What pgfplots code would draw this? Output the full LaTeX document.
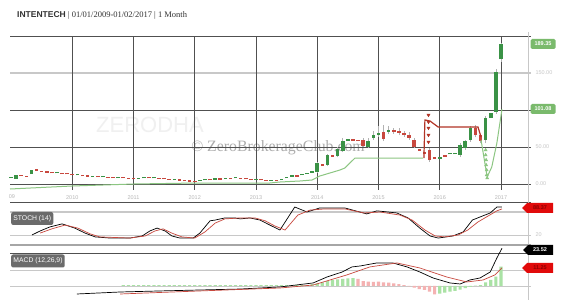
\documentclass[border=0pt]{standalone}
\usepackage{pgfplots}
\usepackage{pgfplotstable}
\pgfplotsset{compat=1.18}
\usepackage{fontspec}
\setmainfont{Liberation Serif}
\setsansfont{Liberation Sans}
\definecolor{cg}{RGB}{58,146,70}
\definecolor{cr}{RGB}{200,72,62}
\definecolor{stg}{RGB}{140,198,130}
\definecolor{str}{RGB}{178,52,38}
\definecolor{hg}{RGB}{170,226,165}
\definecolor{hr}{RGB}{244,178,178}
\definecolor{tagg}{RGB}{122,186,108}
\definecolor{tagr}{RGB}{225,10,10}
\definecolor{gridd}{RGB}{80,80,80}
\definecolor{gridl}{RGB}{200,200,200}

\pgfplotstableread{
m lo hi
0 8.1 10.0
1 6.8 12.2
4 13.5 18.9
9 14.2 16.0
13 11.8 13.6
16 9.5 11.3
18 9.2 11.0
21 8.0 9.8
25 6.8 8.6
26 7.5 9.3
28 7.5 9.3
32 5.4 7.2
37 3.5 5.3
38 5.0 6.8
40 6.0 7.8
42 6.5 8.3
44 7.5 9.3
48 5.4 7.2
51 4.2 6.0
53 5.4 7.2
54 7.5 9.5
55 10.0 12.0
57 11.5 13.3
58 13.0 15.0
59 15.0 17.5
60 16.2 28.4
62 25.7 39.2
64 37.8 47.3
65 44.6 58.1
66 58.5 60.5
70 50.0 58.1
71 62.2 66.2
72 66.5 68.5
74 70.5 72.3
84 34.0 36.0
86 40.0 42.0
87 40.5 42.3
88 39.2 52.7
89 48.6 58.1
90 59.5 75.7
93 59.5 89.2
94 89.2 95.9
95 97.3 151.4
96 168.9 189.35
}\greencandles

\pgfplotstableread{
m lo hi
2 10.8 12.2
3 9.5 11.3
5 17.6 20.3
6 16.2 18.0
7 15.5 17.3
8 14.5 16.3
10 13.3 15.1
11 13.0 14.8
12 12.0 13.8
14 10.6 12.4
15 9.8 11.6
17 9.2 11.0
19 8.3 10.1
20 8.0 9.8
22 7.8 9.6
23 6.8 8.6
24 6.6 8.4
27 7.5 9.3
29 6.8 8.6
30 6.5 8.3
31 5.5 7.3
33 4.3 6.1
34 3.8 5.6
35 3.0 4.8
36 2.7 4.5
39 5.0 6.8
41 6.0 7.8
43 6.5 8.3
45 6.8 8.6
46 6.2 8.0
47 5.4 7.2
49 5.0 6.8
50 4.2 6.0
52 4.0 5.8
56 10.0 11.8
61 24.3 27.0
63 36.5 39.2
67 58.5 60.5
68 58.0 60.0
69 51.4 59.5
73 60.8 70.3
75 70.5 72.3
76 69.5 71.3
77 66.2 68.9
78 62.2 66.2
79 50.0 59.5
80 45.0 47.0
81 41.0 43.0
82 32.4 45.9
83 34.0 36.0
85 37.0 39.0
91 66.2 75.7
92 58.1 66.2
}\redcandles

\pgfplotstableread{
m lo hi
60 15 30
62 24 41
64 36 50
65 43 62
69 50 62
70 48 62
71 60 72
72 64 78
73 58 80
74 68 78
75 68 76
76 66 75
77 64 72
78 60 70
79 48 62
82 30 48
88 37 55
89 46 60
90 57 78
91 63 80
92 55 68
93 55 92
95 95 155
96 165 190.5
}\wicks

\pgfplotstableread{
m v
22 0.6
23 0.6
24 0.6
25 0.6
26 0.6
27 0.6
28 0.6
29 0.6
30 0.6
31 0.6
32 0.6
33 0.6
34 0.6
35 0.6
36 0.6
37 0.6
38 0.6
39 0.6
40 0.6
41 0.6
42 0.6
43 0.6
44 0.6
45 0.6
46 0.6
47 0.6
48 0.6
49 0.6
50 0.6
51 0.6
52 0.6
53 0.6
54 0.6
55 0.6
56 0.6
57 0.6
58 0.6
59 1.1
60 1.7
61 2.3
62 3.1
63 3.75
64 4.2
65 4.4
66 4.8
67 4.9
84 -4.8
85 -4.2
86 -3.5
87 -3.0
88 -2.2
89 -1.3
90 -0.5
91 0.3
92 0.6
93 2.3
94 3.75
95 5.8
96 12.1
}\histgreen

\pgfplotstableread{
m v
68 4.4
69 3.1
70 2.7
71 2.6
72 2.7
73 2.3
74 2.1
75 1.7
76 1.1
77 0.6
78 -0.3
79 -1.0
80 -1.9
81 -2.5
82 -3.5
83 -5.2
}\histred

\begin{document}
\begin{tikzpicture}
\path[use as bounding box] (0pt,0pt) rectangle (562pt,307pt);
\fill[white] (0pt,0pt) rectangle (562pt,307pt);
\begin{scope}[x=1pt,y=1pt]
% title
\node[anchor=west, inner sep=0, text=black!80] at (17,292) {\sffamily\bfseries\fontsize{8.5}{10}\selectfont INTENTECH\rmfamily\mdseries\ | 01/01/2009-01/02/2017 | 1 Month};
% watermarks
\node[text=black!6] at (150,182) {\sffamily\fontsize{22}{24}\selectfont ZERODHA};
\node[text=black!32] at (278,159) {\rmfamily\fontsize{15.8}{18}\selectfont \textcopyright\ ZeroBrokerageClub.com};
% main panel horizontal lines
\draw[gridd, line width=0.6pt] (10,271) -- (531,271);
\draw[gridl, line width=1.4pt] (10,234) -- (531,234);
\draw[gridd, line width=0.6pt] (10,197) -- (531,197);
\draw[gridd, line width=0.6pt] (10,160) -- (531,160);
\draw[gridd, line width=0.6pt] (10,123) -- (531,123);
% stoch lines
\draw[gridd, line width=0.6pt] (10,105) -- (531,105);
\draw[gridl, line width=1.2pt] (10,95) -- (531,95);
\draw[gridl, line width=0.7pt] (10,72) -- (531,72);
\draw[black!35, line width=1.8pt] (10,62) -- (531,62);
% macd lines
\draw[gridd, line width=0.6pt] (10,54) -- (531,54);
\draw[gridl, line width=0.7pt] (10,37) -- (531,37);
\draw[gridl, line width=0.7pt] (10,21) -- (531,21);
% right axis line
\draw[black!22, line width=0.7pt] (528,275) -- (528,7);
\end{scope}

% ===== main price panel =====
\begin{axis}[
  at={(10pt,117pt)}, anchor=south west, scale only axis,
  width=518pt, height=154pt,
  xmin=-0.2, xmax=101.3, ymin=-8.1, ymax=200,
  axis line style={draw=none},
  xtick={12,24,36,48,60,72,84,96},
  xticklabels={2010,2011,2012,2013,2014,2015,2016,2017},
  xticklabel style={font=\sffamily\fontsize{5.5}{6}\selectfont, text=black!28, yshift=-2pt},
  ytick=\empty,
  major tick length=0pt,
  xmajorgrids, major grid style={gridd, line width=0.6pt},
  clip=false,
]
% wicks
\addplot[draw=none, mark=none, error bars/.cd, y dir=plus, y explicit, error mark=none,
  error bar style={draw=black!30, line width=0.6pt}]
  table[x=m, y=lo, y error expr=\thisrow{hi}-\thisrow{lo}] {\wicks};
% bodies
\addplot[draw=none, mark=none, error bars/.cd, y dir=plus, y explicit, error mark=none,
  error bar style={draw=cg, line width=3.6pt}]
  table[x=m, y=lo, y error expr=\thisrow{hi}-\thisrow{lo}] {\greencandles};
\addplot[draw=none, mark=none, error bars/.cd, y dir=plus, y explicit, error mark=none,
  error bar style={draw=cr, line width=3.6pt}]
  table[x=m, y=lo, y error expr=\thisrow{hi}-\thisrow{lo}] {\redcandles};
% supertrend green
\addplot[stg, line width=1pt, mark=none] coordinates {
(-0.2,-6.76) (11.95,-2.7) (24.1,0) (36.4,1.35) (50.7,1.35) (52.7,2.7) (56.6,4.05)
(58.97,5.4) (60.5,10.8) (62.5,14.9) (64.45,18.9) (65.4,21.6) (66.4,28.4) (67.4,35.1) (80.7,35.1)};
% supertrend red
\addplot[str, line width=1.2pt, mark=none] coordinates {
(80.9,35.1) (81.1,86.5) (82.1,85.1) (83.7,77) (91.5,77) (92.1,63.5)};
\addplot[stg, line width=1pt, mark=none] coordinates {
(92.1,59.5) (93.3,9.5) (94.2,23) (95.2,55.4) (96.2,101.08)};
% triangles
\addplot[only marks, mark=triangle*, mark size=1.8pt, mark options={rotate=180, fill=str, draw=str}]
 coordinates {(81.8,93.2) (81.8,83.8) (81.8,75.7) (81.8,66.2) (81.8,56.8)};
\addplot[only marks, mark=triangle*, mark size=1.8pt, mark options={fill=stg, draw=stg}]
 coordinates {(93.0,45.9) (93.0,39.2) (93.1,32.4) (93.1,25.7) (93.2,18.9) (93.2,12.2) (93.3,8.0)};
\end{axis}

% ===== STOCH panel =====
\begin{axis}[
  at={(10pt,62pt)}, anchor=south west, scale only axis,
  width=518pt, height=43pt,
  xmin=-0.2, xmax=101.3, ymin=-6.1, ymax=106.1,
  axis line style={draw=none},
  xtick=\empty, ytick=\empty,
]
\addplot[black, line width=0.7pt, mark=none] coordinates {
(4.1,20) (5.7,30.5) (7.6,41) (10,49) (12.5,38) (14.5,25) (16.5,15) (19.4,12) (23.3,12) (25.7,17.5)
(27.2,30.5) (28.6,38) (30.2,30.5) (31.5,17.5) (33.1,12) (35.7,12) (37,25) (39,57) (40,59) (41.9,64.5)
(43.9,64.5) (44.9,62) (46.8,64.5) (48.8,59) (50.7,46) (52.7,33) (55.6,93) (58,80) (60.5,90.6) (65.4,90.6)
(69.7,75) (71.7,83) (75.6,77.5) (77.8,64.5) (80.1,38) (82.1,17.5) (83.7,12) (86.6,17.5) (88.6,28) (90.4,59)
(91.9,67) (93.9,77.5) (95.2,93) (96.2,93)};
\addplot[cr, line width=0.7pt, mark=none] coordinates {
(5.7,25) (8,36) (10.6,46) (13.1,38) (15.5,23) (17.4,15) (23.3,12) (26.3,17.5) (28.2,30.5) (29.8,36)
(31.5,25) (33.5,15) (36,12) (38,28) (40,51) (41.9,62) (44.9,64.5) (47.8,64.5) (49.8,57) (51.7,43.5)
(53.7,33) (56.2,72) (58.6,85) (61.5,88) (65.4,88) (69.2,77.5) (72.3,80) (76.2,72) (78.6,59) (81.1,33)
(83.1,17.5) (85,15) (87.6,20) (89.5,33) (91.5,54) (93.5,69.7) (95.2,83) (96.2,88)};
\end{axis}

% ===== MACD panel =====
\begin{axis}[
  at={(10pt,7pt)}, anchor=south west, scale only axis,
  width=518pt, height=55pt,
  xmin=-0.2, xmax=101.3, ymin=-8.75, ymax=25.6,
  axis line style={draw=none},
  xtick=\empty, ytick=\empty,
]
\addplot[ybar, bar width=3.2pt, bar shift=0pt, fill=hg, draw=none] table[x=m, y=v] {\histgreen};
\addplot[ybar, bar width=3.2pt, bar shift=0pt, fill=hr, draw=none] table[x=m, y=v] {\histred};
\addplot[black, line width=0.7pt, mark=none] coordinates {
(12.9,-5) (21.4,-3.75) (29.2,-3.1) (37,-2.5) (44.9,-1.9) (52.7,-0.6) (59.2,1.9) (61.9,5.6) (64.9,8.75)
(66.8,11.9) (68.4,12.5) (71.7,14.4) (74.8,14.4) (77.6,11.9) (80.1,8.75) (82.7,5) (86,1.9) (88,1.25)
(89.9,3.75) (91.9,5) (93.9,8.75) (95.2,17.5) (96.2,23.52)};
\addplot[cr, line width=0.7pt, mark=none] coordinates {
(21.4,-5) (37,-3.1) (52.7,-1.25) (59.2,0.6) (65.8,6.9) (70.3,11.9) (75.6,14.4) (80.1,11.25) (85.4,5.6)
(89.3,2.5) (92.5,3.75) (94.8,6.9) (96.2,11.25)};
\end{axis}

% ===== labels and tags =====
\begin{scope}[x=1pt,y=1pt, every node/.style={font=\sffamily\fontsize{5.5}{6}\selectfont}]
\node[text=black!28] at (12,110) {09};
\node[anchor=west, text=black!22] at (532,234) {150.00};
\node[anchor=west, text=black!22] at (532,160) {50.00};
\node[anchor=west, text=black!22] at (532,123) {0.00};
\node[anchor=west, text=black!22] at (532,72) {20};
\node[fill=tagg, text=white, rounded corners=1.5pt, inner sep=1.5pt, minimum width=25pt, minimum height=10pt, font=\sffamily\bfseries\fontsize{5.5}{6}\selectfont] at (543,263) {189.35};
\node[fill=tagg, text=white, rounded corners=1.5pt, inner sep=1.5pt, minimum width=25pt, minimum height=10pt, font=\sffamily\bfseries\fontsize{5.5}{6}\selectfont] at (543,198) {101.08};
% stoch tag
\fill[tagr] (522,99) -- (527,104) -- (553,104) -- (553,94) -- (527,94) -- cycle;
\node[text=red!55!black, font=\sffamily\bfseries\fontsize{5.5}{6}\selectfont] at (540,99) {88.37};
% macd tags
\fill[black] (523,57) -- (528,62) -- (553,62) -- (553,52) -- (528,52) -- cycle;
\node[text=white, font=\sffamily\bfseries\fontsize{5.5}{6}\selectfont] at (540,57) {23.52};
\fill[tagr] (522,39) -- (527,44) -- (553,44) -- (553,34) -- (527,34) -- cycle;
\node[text=red!55!black, font=\sffamily\bfseries\fontsize{5.5}{6}\selectfont] at (540,39) {11.25};
% panel name boxes
\node[anchor=west, fill=black!58, text=white, rounded corners=2pt, inner sep=2.2pt, minimum height=13pt, font=\sffamily\fontsize{6.8}{7}\selectfont] at (11,88.5) {STOCH (14)};
\node[anchor=west, fill=black!58, text=white, rounded corners=2pt, inner sep=2.2pt, minimum height=13pt, font=\sffamily\fontsize{6.8}{7}\selectfont] at (11,46) {MACD (12,26,9)};
\end{scope}
\end{tikzpicture}
\end{document}
